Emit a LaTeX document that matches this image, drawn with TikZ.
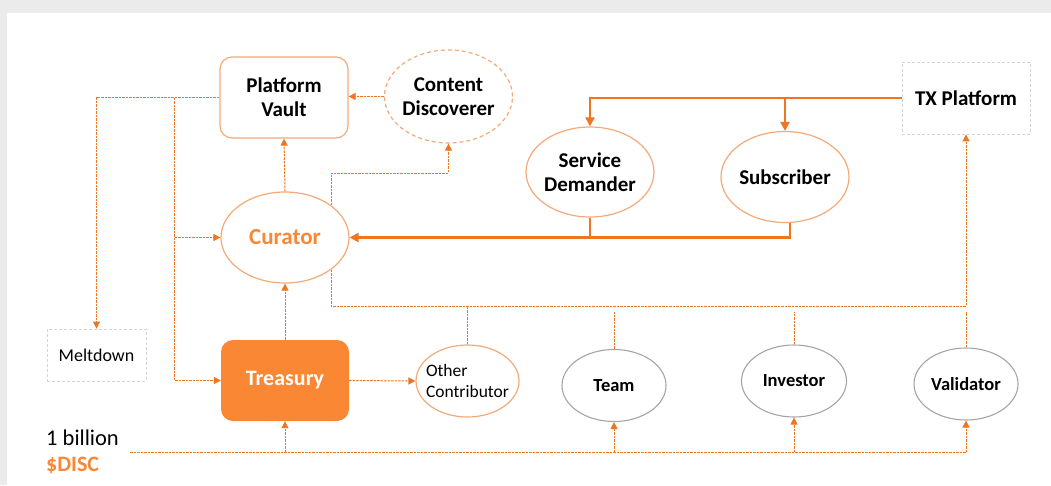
\documentclass[tikz,border=0pt]{standalone}
\usepackage{fontspec}
\setmainfont{Carlito}
\usetikzlibrary{shapes.geometric,arrows.meta}
\definecolor{accent}{RGB}{236,118,34}
\definecolor{lightacc}{RGB}{244,170,120}
\definecolor{treas}{RGB}{250,135,52}
\definecolor{ballgray}{RGB}{165,165,165}
\definecolor{boxgray}{RGB}{212,212,212}
\definecolor{pagegray}{RGB}{235,235,235}
\begin{document}
\begin{tikzpicture}[x=1pt,y=-1pt]
\tikzstyle{every node}+=[inner sep=0pt, align=center, font=\bfseries\fontsize{21}{24}\selectfont]
\tikzstyle{bubble}=[ellipse, draw=lightacc, line width=1.2pt, inner xsep=-8pt, minimum width=128pt, minimum height=91pt]
\tikzstyle{grayball}=[ellipse, draw=ballgray, line width=1.1pt, minimum width=104pt, minimum height=72pt, font=\bfseries\fontsize{18.5}{22}\selectfont]
\tikzstyle{vault}=[rectangle, rounded corners=12pt, minimum width=128pt, minimum height=81pt]
\tikzstyle{dashbox}=[rectangle, draw=boxgray, line width=0.9pt, dash pattern=on 3pt off 2pt]
\tikzstyle{link}=[draw=accent, line width=1pt, dash pattern=on 2.5pt off 1pt, -{Triangle[length=7pt,width=7pt]}]
\tikzstyle{flow}=[draw=accent, line width=2.8pt, -{Triangle[length=9pt,width=9pt]}]
% page
\fill[pagegray] (0,0) rectangle (1051,485);
\fill[white] (7,13) rectangle (1051,485);
\useasboundingbox (0,0) rectangle (1051,485);
% upper row
\node[vault, draw=lightacc, line width=1.2pt] (pv) at (284,97.5) {Platform\\Vault};
\node[bubble, dash pattern=on 4pt off 3pt, minimum height=93pt] (cd) at (448.5,96.5) {Content\\Discoverer};
\node[bubble, text=treas, font=\bfseries\fontsize{23}{26}\selectfont] (cur) at (285,237.5) {Curator};
\node[bubble, minimum height=90pt] (sd) at (590,172) {Service\\Demander};
\node[bubble] (sub) at (785,177) {Subscriber};
\node[dashbox, minimum width=128pt, minimum height=72pt] (tx) at (966,98) {TX Platform};
% lower row
\node[dashbox, minimum width=99pt, minimum height=52pt, font=\fontsize{18}{22}\selectfont] (melt) at (96.5,355) {Meltdown};
\node[vault, fill=treas, text=white, font=\bfseries\fontsize{22}{26}\selectfont] (tr) at (285,380.5) {Treasury};
\node[bubble, inner xsep=-12pt, minimum width=103pt, minimum height=72pt, align=left, font=\fontsize{17.5}{20.7}\selectfont] (oc) at (467.5,381) {Other\\Contributor};
\node[grayball] (team) at (614,385.5) {Team};
\node[grayball, minimum width=105pt] (inv) at (794,381) {Investor};
\node[grayball] (val) at (966,384) {Validator};
\node[anchor=base west, font=\fontsize{22.5}{24}\selectfont] (billion) at (46,445) {1 billion};
\node[anchor=base west, text=treas, font=\bfseries\fontsize{22}{24}\selectfont] (disc) at (46,471.7) {\$DISC};
% solid flows
\draw[flow] (tx.west) -| (sd.north);
\draw[flow] (sub.north |- tx.west) -- (sub.north);
\draw[flow,-] (sd.south) -- (sd.south |- cur.east);
\draw[flow] ([xshift=5pt]sub.south) |- (cur.east);
% dotted links
\coordinate (split) at (174.5,97.5);
\coordinate (cdbend) at (448.5,173);
\coordinate (bus) at (966,306);
\coordinate (stubs) at (0,312);
\coordinate (supply) at (130,452);
\draw[link] (cd.west) -- (pv.east |- cd.west);
\draw[link] (cur.north) -- (pv.south);
\draw[link] (cur.35) |- (cdbend) -- (cd.south);
\draw[link] (pv.west) -| (melt.north);
\draw[link] (split) |- (tr.west);
\draw[link] (split |- cur.west) -- (cur.west);
\draw[link] (tr.north) -- (cur.south);
\draw[link] (tr.east) -- (oc.west);
\draw[link] (cur.-35) |- (bus) -- (tx.south);
\draw[link,-] (oc.north) -- (oc.north |- bus);
\foreach \n in {team,inv,val}
  \draw[link,-] (\n.north) -- (\n.north |- stubs);
\draw[link,-] (supply) -- (val.south |- supply);
\foreach \n in {tr,team,inv,val}
  \draw[link] (\n.south |- supply) -- (\n.south);
\end{tikzpicture}
\end{document}
